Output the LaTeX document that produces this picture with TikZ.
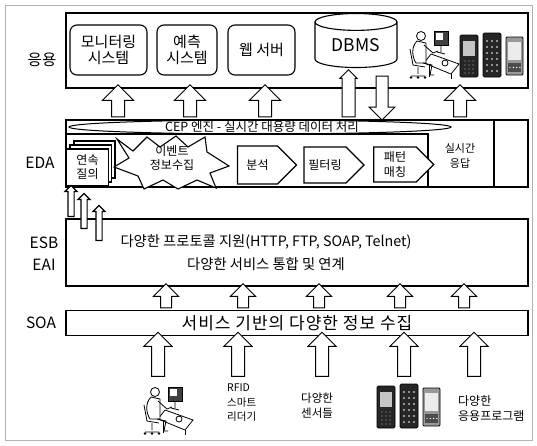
\documentclass[tikz,border=0pt]{standalone}
\usepackage{fontspec}
\setmainfont{Noto Sans CJK KR}
\newfontfamily\spaziato[LetterSpace=6]{Noto Sans CJK KR}
\usetikzlibrary{shapes.geometric,shapes.arrows,shapes.symbols}

\tikzset{
	% omino alla scrivania
	pics/operatore/.style={code={
		\draw[line width=0.8pt,fill=white] (24,27) -- (52,37) -- (44,47) -- (17,36) -- cycle;
		\draw[line width=0.8pt] (44,47) -- (44,52) (22,38) -- (22,50);
		\draw[line width=0.8pt,fill=black!75] (27,4) rectangle (41,18);
		\fill[white] (29,6) rectangle (36,13);
		\draw[line width=0.8pt] (34,18) -- (34,25) (30,25) -- (38,27);
		\draw[line width=0.8pt] (38,36) circle (3);
		\draw[line width=0.8pt,fill=white] (14,9) circle (4.5);
		\draw[line width=0.8pt,fill=white] (10,14) .. controls (4,20) and (5,30) .. (9,36) -- (19,36) -- (19,16) -- cycle;
		\draw[line width=0.8pt] (17,18) -- (26,26) -- (31,24);
		\draw[line width=0.8pt] (16,36) -- (25,38) -- (23,48) -- (27,48);
		\draw[line width=0.8pt] (3,22) -- (6,38) -- (18,40) (11,40) -- (11,47) (4,49) -- (18,49);
		\foreach \r in {4,11,18} \fill (\r,50.5) circle (1.4);
	}},
	% tre telefonini
	pics/telefoni/.style={code={
		\draw[line width=0.8pt,fill=black!85,rounded corners=1.5pt] (0,2) rectangle (18,44);
		\fill[gray!45] (3,8) rectangle (15,23);
		\foreach \r in {0,...,3} \foreach \c in {0,1,2} \fill[gray!60] (5+\c*4,28+\r*4) circle (0.7);
		\draw[line width=0.8pt,fill=black!85,rounded corners=1.5pt] (23,0) rectangle (41,44);
		\foreach \r in {0,...,5} \foreach \c in {0,1,2} \fill[white] (27+\c*5,8+\r*6) circle (0.8);
		\draw[line width=0.8pt,fill=black!40,rounded corners=1pt] (46,4) rectangle (63,42);
		\fill[gray!15] (48,9) rectangle (61,27);
		\fill[black!70] (48,30) rectangle (61,39);
		\foreach \c in {0,...,3} \fill[white] (50+\c*3.3,34.5) circle (0.7);
	}}
}

\begin{document}
\begin{tikzpicture}[x=1pt,y=-1pt,
	strato/.style={draw,line width=1.1pt,fill=white,inner sep=0pt,outer sep=0pt},
	modulo/.style={draw,line width=1.1pt,rounded corners=7pt,fill=white,inner sep=0pt,align=center,
		font=\fontsize{15}{16.5}\selectfont},
	etichetta/.style={font=\fontsize{15.5}{22}\selectfont,align=center},
	fase/.style={draw,line width=1.1pt,fill=white,shape=signal,signal to=east,inner sep=0pt,align=center,
		font=\fontsize{12}{14.5}\selectfont},
	testo/.style={font=\fontsize{12}{14.5}\selectfont,align=center},
	piccolo/.style={font=\fontsize{10.5}{14.5}\selectfont,align=left,inner sep=0pt},
	freccia/.style={draw,line width=1pt,fill=white,shape=single arrow,inner xsep=0pt,inner ysep=6pt,
		single arrow head extend=9pt,minimum width=1pt},
	su/.style={freccia,rotate=90},
	giu/.style={freccia,rotate=-90},
	sottile/.style={su,line width=1.2pt,inner ysep=2.5pt,single arrow head extend=3pt}]

	\useasboundingbox (0,0) rectangle (537,445);

	% Cornice esterna
	\draw[gray!60,line width=0.8pt] (5,5) rectangle (532,440);

	% Etichette dei livelli
	\node[etichetta] (lapp) at (42,60) {응용};
	\node[etichetta] (leda) at (40,163) {EDA};
	\node[etichetta] (lesb) at (44,254) {ESB\\EAI};
	\node[etichetta] (lsoa) at (41,323) {SOA};

	% Livello applicativo
	\node[strato,minimum width=462pt,minimum height=75pt] (app) at (297,50.5) {};
	\node[modulo,minimum width=77pt,minimum height=50pt] (moni) at (108.5,50) {모니터링\\시스템};
	\node[modulo,minimum width=60pt,minimum height=50pt] (pred) at (187,50) {예측\\시스템};
	\node[modulo,minimum width=67pt,minimum height=50pt] (web) at (261.5,50) {웹 서버};
	\node[draw,line width=1.1pt,fill=white,shape=cylinder,shape border rotate=90,aspect=0.35,
		minimum width=82pt,minimum height=54pt,inner sep=0pt,font=\fontsize{17.5}{19}\selectfont]
		(dbms) at (356,45) {DBMS};
	\pic at (407,27) {operatore};
	\pic at (460,33) {telefoni};

	% Livello EDA
	\node[strato,minimum width=462pt,minimum height=67pt] (eda) at (297,153.5) {};
	\draw[line width=1.1pt] (eda.west |- 0,134) -- (428,134) -- (428,187);
	\draw[line width=1.1pt] (494,120) -- (494,187);
	\draw[line width=1pt] (260,127) ellipse (191 and 7);
	\node[testo,font=\fontsize{12.5}{14}\selectfont] (cep) at (262,127) {CEP 엔진 - 실시간 대용량 데이터 처리};

	% Interrogazioni continue (fogli sovrapposti)
	\draw[line width=1.3pt,fill=white] (74,141) rectangle (115,178);
	\draw[line width=1.3pt,fill=white] (70,145) rectangle (111.5,182);
	\node[strato,minimum width=41.5pt,minimum height=37pt,align=center,
		font=\fontsize{12}{14}\selectfont] (cont) at (87.5,167.5) {연속\\질의};

	% Raccolta eventi (esplosione)
	\draw[line width=1.1pt,fill=white] (117,139) -- (133,151) -- (147,137) -- (160,147) -- (176,136)
		-- (188,147) -- (205,137) -- (207,152) -- (229,166) -- (210,173) -- (216,188) -- (197,180)
		-- (178,189) -- (163,180) -- (144,189) -- (138,176) -- (114,167) -- (129,158) -- cycle;
	\node[testo] (evento) at (172,158) {이벤트\\정보수집};

	% Fasi di elaborazione
	\node[fase,minimum width=59pt,minimum height=38pt] (anal) at (257.5,165) {분석};
	\node[fase,minimum width=60pt,minimum height=36pt] (filt) at (325,165) {필터링};
	\node[fase,minimum width=60pt,minimum height=35pt] (patt) at (395,164.5) {패턴\\매칭};
	\node[testo,font=\fontsize{11}{14.5}\selectfont] (risp) at (460,156) {실시간\\응답};

	% Livello ESB / EAI
	\node[strato,minimum width=462pt,minimum height=67pt] (esb) at (297,252.5) {};
	\node[align=center,font=\fontsize{14.3}{23}\selectfont] (esbt) at (266,252.5)
		{다양한 프로토콜 지원(HTTP, FTP, SOAP, Telnet)\\다양한 서비스 통합 및 연계};

	% Livello SOA
	\node[strato,minimum width=462pt,minimum height=25pt,font=\spaziato\fontsize{17}{19}\selectfont]
		(soa) at (297,323) {서비스 기반의 다양한 정보 수집};

	% Frecce verso il livello applicativo
	\node[su,minimum height=32pt] (f1) at (118,104) {};
	\node[su,minimum height=32pt] (f2) at (190,104) {};
	\node[su,minimum height=32pt] (f3) at (265,104) {};
	\node[su,minimum height=47pt,single arrow head extend=2pt] (f4) at (348.5,96.5) {};
	\node[giu,minimum height=44pt,inner ysep=5.5pt,single arrow head extend=7pt] (f5) at (382,95) {};
	\node[su,minimum height=32pt] (f6) at (460,104) {};

	% Frecce sottili da ESB a EDA
	\node[sottile,minimum height=31pt] (s1) at (71,202.5) {};
	\node[sottile,minimum height=35pt] (s2) at (84,212.5) {};
	\node[sottile,minimum height=35pt] (s3) at (99,224.5) {};

	% Frecce da SOA a ESB
	\foreach \x [count=\i] in {166,243,319,400,464}
		\node[su,minimum height=24pt,inner ysep=5pt,single arrow head extend=7pt] (g\i) at (\x,298.5) {};

	% Frecce dalle sorgenti a SOA
	\foreach \x [count=\i] in {158,238,322,404,474}
		\node[su,minimum height=44pt,inner ysep=6pt,single arrow head extend=7.5pt] (h\i) at (\x,357.5) {};

	% Sorgenti di informazione
	\pic at (141,383) {operatore};
	\node[piccolo,anchor=north west] (rfid) at (227,384) {RFID\\스마트\\리더기};
	\node[piccolo,anchor=north west,font=\fontsize{11.5}{15}\selectfont] (sens) at (301,393) {다양한\\센서들};
	\pic at (377,384) {telefoni};
	\node[piccolo,anchor=north west,font=\fontsize{12}{15}\selectfont] (prog) at (458,395) {다양한\\응용프로그램};

\end{tikzpicture}
\end{document}
